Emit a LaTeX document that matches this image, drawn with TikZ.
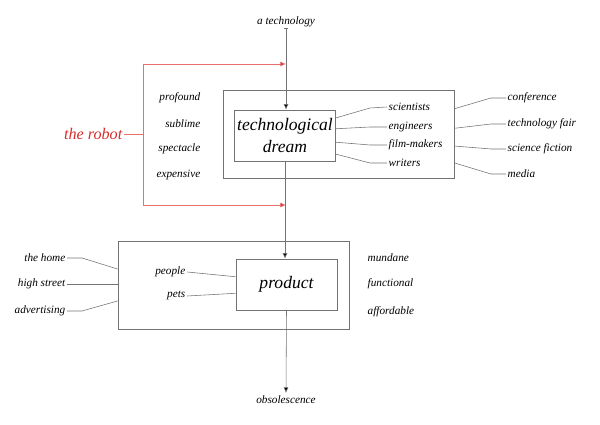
\documentclass[tikz,border=0pt]{standalone}
\usepackage{fontspec}
\setmainfont{Liberation Serif}
\usepackage{tikz}
\usetikzlibrary{arrows.meta,positioning,calc}
\usepackage{xcolor}
\definecolor{robotred}{RGB}{215, 45, 45}
\definecolor{robotline}{RGB}{235,110,110}
\definecolor{linkgray}{RGB}{115,115,115}

\begin{document}
\begin{tikzpicture}[
  x=0.025cm,y=-0.025cm,
  every node/.style={font=\fontsize{8}{9}\selectfont\itshape,inner sep=1pt},
  zone/.style={draw=linkgray,line width=0.5pt,minimum width=5.775cm,minimum height=2.2cm},
  core/.style={draw=linkgray,line width=0.5pt,minimum width=2.525cm,minimum height=1.275cm,
               align=center,font=\fontsize{12.5}{15}\selectfont\itshape},
  link/.style={draw=linkgray,line width=0.4pt},
  arr/.style={link,-{Latex[length=4pt,width=3.5pt,fill=black]}},
  redarr/.style={draw=robotline,line width=0.5pt,-{Latex[length=4pt,width=3.5pt,fill=robotred]}},
]
\useasboundingbox (0,0) rectangle (600,425);

%% ── Technological dream ─────────────────────────────────────────────
\node (tech) at (286,22) {a technology};
\node[zone] (dreamzone) at (338.5,134.5) {};
\node[core] (dream) at (285,135.5) {technological\\dream};
\draw[arr,{Bar[width=3.5pt]}-{Latex[length=4pt,width=3.5pt,fill=black]}] (tech.south) ++(0,-1) coordinate (tick) -- (tick |- dream.north);

\node[anchor=east] (profound)  at (202,98)  {profound};
\node[anchor=east] (sublime)   at (202,124) {sublime};
\node[anchor=east] (spectacle) at (202,149) {spectacle};
\node[anchor=east] (expensive) at (202,175) {expensive};

\node[anchor=west] (sci) at (387,107) {scientists};
\node[anchor=west] (eng) at (387,127) {engineers};
\node[anchor=west] (film) at (387,145) {film-makers};
\node[anchor=west] (wri) at (387,163) {writers};
\draw[link] ($(dream.north east)!.16!(dream.south east)$) -- (370,108) -- (sci.west);
\draw[link] ($(dream.north east)!.37!(dream.south east)$) -- (370,127) -- (eng.west);
\draw[link] ($(dream.north east)!.63!(dream.south east)$) -- (370,145) -- (film.west);
\draw[link] ($(dream.north east)!.86!(dream.south east)$) -- (370,163) -- (wri.west);

\node[anchor=west] (conf) at (506,98)  {conference};
\node[anchor=west] (fair) at (506,124) {technology fair};
\node[anchor=west] (scifi) at (506,149) {science fiction};
\node[anchor=west] (media) at (506,174) {media};
\draw[link] ($(dreamzone.north east)!.21!(dreamzone.south east)$) -- (491,98)  -- (conf.west);
\draw[link] ($(dreamzone.north east)!.43!(dreamzone.south east)$) -- (491,124) -- (fair.west);
\draw[link] ($(dreamzone.north east)!.63!(dreamzone.south east)$) -- (491,149) -- (scifi.west);
\draw[link] ($(dreamzone.north east)!.82!(dreamzone.south east)$) -- (491,174) -- (media.west);

%% ── The robot ───────────────────────────────────────────────────────
\node[anchor=east,text=robotred,font=\fontsize{11.5}{13}\selectfont\itshape] (robot) at (124,134) {the robot};
\coordinate (split) at (143,134);
\coordinate (tapin)  at (286,64);
\coordinate (tapout) at (286,205);
\draw[draw=robotline,line width=0.5pt] (robot.east) -- (split);
\draw[redarr] (split) |- (tapin);
\draw[redarr] (split) |- (tapout);

%% ── Product ─────────────────────────────────────────────────────────
\node[zone] (productzone) at (233.5,285) {};
\node[core] (product) at (286.5,284.5) {product};
\draw[arr] (dream.south) -- (dream.south |- product.north);

\node[anchor=east] (people) at (187,272) {people};
\node[anchor=east] (pets)   at (187,296) {pets};
\draw[link] (people.east) -- ($(product.north west)!.35!(product.south west)$);
\draw[link] (pets.east) -- ($(product.north west)!.67!(product.south west)$);

\node[anchor=east] (home)   at (67,258) {the home};
\node[anchor=east] (street) at (67,284) {high street};
\node[anchor=east] (advert) at (67,311) {advertising};
\draw[link] (home.east) -- (82,258) -- ($(productzone.north west)!.32!(productzone.south west)$);
\draw[link] (street.east) -- (street.east -| productzone.west);
\draw[link] (advert.east) -- (82,311) -- ($(productzone.north west)!.68!(productzone.south west)$);

\node[anchor=west] (mundane)    at (366,258) {mundane};
\node[anchor=west] (functional) at (366,284) {functional};
\node[anchor=west] (affordable) at (366,312) {affordable};

\node (obsol) at (286,400) {obsolescence};
\draw[arr] (product.south) -- ([yshift=1pt]obsol.north);

\end{tikzpicture}
\end{document}
